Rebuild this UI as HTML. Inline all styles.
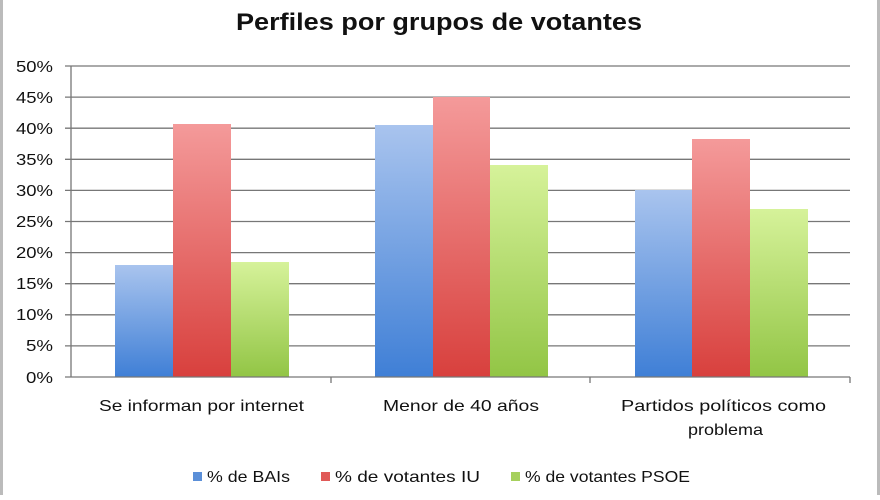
<!DOCTYPE html>
<html><head><meta charset="utf-8"><style>
body{margin:0;width:880px;height:495px;background:#fff;overflow:hidden;font-family:"Liberation Sans",sans-serif}
</style></head><body>
<svg width="880" height="495" xmlns="http://www.w3.org/2000/svg" font-family="Liberation Sans, sans-serif">
<defs>
<linearGradient id="b" x1="0" y1="0" x2="0" y2="1"><stop offset="0" stop-color="#a9c4ee"/><stop offset="1" stop-color="#3f7fd6"/></linearGradient>
<linearGradient id="r" x1="0" y1="0" x2="0" y2="1"><stop offset="0" stop-color="#f49a9a"/><stop offset="1" stop-color="#d8403d"/></linearGradient>
<linearGradient id="g" x1="0" y1="0" x2="0" y2="1"><stop offset="0" stop-color="#d6f29a"/><stop offset="1" stop-color="#92c545"/></linearGradient>
</defs>
<rect x="0" y="0" width="3" height="495" fill="#bbb"/>
<rect x="877" y="0" width="3" height="495" fill="#bbb"/>
<text x="236" y="30" font-size="24" font-weight="bold" fill="#111" textLength="406" lengthAdjust="spacingAndGlyphs">Perfiles por grupos de votantes</text>
<g stroke="#777" stroke-width="1.3">
<line x1="65" y1="66" x2="850" y2="66"/><line x1="65" y1="97.1" x2="850" y2="97.1"/><line x1="65" y1="128.2" x2="850" y2="128.2"/><line x1="65" y1="159.3" x2="850" y2="159.3"/><line x1="65" y1="190.4" x2="850" y2="190.4"/><line x1="65" y1="221.5" x2="850" y2="221.5"/><line x1="65" y1="252.6" x2="850" y2="252.6"/><line x1="65" y1="283.7" x2="850" y2="283.7"/><line x1="65" y1="314.8" x2="850" y2="314.8"/><line x1="65" y1="345.9" x2="850" y2="345.9"/>
</g>
<g>
<rect x="115" y="265" width="58" height="112" fill="url(#b)"/>
<rect x="173" y="124" width="58" height="253" fill="url(#r)"/>
<rect x="231" y="262" width="58" height="115" fill="url(#g)"/>
<rect x="375" y="125" width="58" height="252" fill="url(#b)"/>
<rect x="433" y="97" width="57" height="280" fill="url(#r)"/>
<rect x="490" y="165" width="58" height="212" fill="url(#g)"/>
<rect x="635" y="190" width="57" height="187" fill="url(#b)"/>
<rect x="692" y="139" width="58" height="238" fill="url(#r)"/>
<rect x="750" y="209" width="58" height="168" fill="url(#g)"/>
</g>
<g stroke="#777" stroke-width="1.3">
<line x1="71" y1="66" x2="71" y2="377"/><line x1="65" y1="377" x2="850" y2="377"/>
<line x1="331" y1="377" x2="331" y2="383"/><line x1="590" y1="377" x2="590" y2="383"/><line x1="850" y1="377" x2="850" y2="383"/>
</g>
<g font-size="16" fill="#111">
<text x="16" y="72" textLength="37" lengthAdjust="spacingAndGlyphs">50%</text><text x="16" y="103" textLength="37" lengthAdjust="spacingAndGlyphs">45%</text><text x="16" y="134" textLength="37" lengthAdjust="spacingAndGlyphs">40%</text><text x="16" y="165" textLength="37" lengthAdjust="spacingAndGlyphs">35%</text><text x="16" y="196" textLength="37" lengthAdjust="spacingAndGlyphs">30%</text><text x="16" y="227" textLength="37" lengthAdjust="spacingAndGlyphs">25%</text><text x="16" y="258" textLength="37" lengthAdjust="spacingAndGlyphs">20%</text><text x="16" y="289" textLength="37" lengthAdjust="spacingAndGlyphs">15%</text><text x="16" y="320" textLength="37" lengthAdjust="spacingAndGlyphs">10%</text><text x="26" y="351" textLength="27" lengthAdjust="spacingAndGlyphs">5%</text><text x="26" y="383" textLength="27" lengthAdjust="spacingAndGlyphs">0%</text>
</g>
<g font-size="16" fill="#111">
<text x="99" y="411" textLength="205" lengthAdjust="spacingAndGlyphs">Se informan por internet</text>
<text x="383" y="411" textLength="156" lengthAdjust="spacingAndGlyphs">Menor de 40 años</text>
<text x="621" y="411" textLength="205" lengthAdjust="spacingAndGlyphs">Partidos políticos como</text>
<text x="688" y="435" textLength="75" lengthAdjust="spacingAndGlyphs">problema</text>
</g>
<g font-size="16" fill="#111">
<rect x="193" y="472" width="9" height="9" fill="#5b8fd8"/><text x="207" y="482" textLength="83" lengthAdjust="spacingAndGlyphs">% de BAIs</text>
<rect x="321" y="472" width="9" height="9" fill="#e05a58"/><text x="335" y="482" textLength="145" lengthAdjust="spacingAndGlyphs">% de votantes IU</text>
<rect x="511" y="472" width="9" height="9" fill="#a6d05d"/><text x="525" y="482" textLength="165" lengthAdjust="spacingAndGlyphs">% de votantes PSOE</text>
</g>
</svg>
</body></html>
